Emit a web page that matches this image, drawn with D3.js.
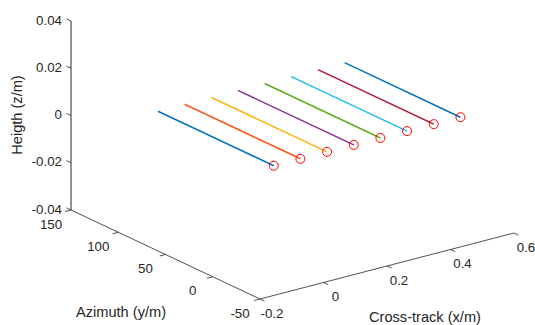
<!DOCTYPE html>
<html>
<head>
<meta charset="utf-8">
<script src="https://cdn.jsdelivr.net/npm/d3@7"></script>
<style>
  body { margin: 0; background: #fff; }
  svg { display: block; }
  text { font-family: Arial, "Liberation Sans", sans-serif; fill: #262626; }
</style>
</head>
<body>
<div id="chart"></div>
<script>
// track positions
const crossTrack = [-0.005, 0.079, 0.163, 0.247, 0.331, 0.415, 0.499, 0.583];
const azimuthRange = [123.5, 1];   // start, end (end marked with a circle)
const heightLevel = 0;
const lineColors = ['#0072BD', '#FF5416', '#FFB000', '#8A2D96', '#5EAE1E', '#1DBDF0', '#B5122E', '#0072BD'];

const xTicks = [-0.2, 0, 0.2, 0.4, 0.6];
const yTicks = [-50, 0, 50, 100, 150];
const zTicks = [-0.04, -0.02, 0, 0.02, 0.04];

const width = 535, height = 325;

let svg = d3.select('#chart').append('svg')
    .attr('width', width)
    .attr('height', height);

// 3d -> 2d (orthographic view, like matlab)
let fx = d3.scaleLinear().domain([-0.2, 0.6]).range([0, 1]);
let fy = d3.scaleLinear().domain([-50, 150]).range([0, 1]);
let fz = d3.scaleLinear().domain([-0.04, 0.04]).range([0, 1]);

let O = [260, 299];
let X = [254, -66];
let Y = [-189, -89];
let Z = [0, -189];

function proj(x, y, z) {
    let a = fx(x), b = fy(y), c = fz(z);
    return [O[0] + a * X[0] + b * Y[0] + c * Z[0],
            O[1] + a * X[1] + b * Y[1] + c * Z[1]];
}

function unit(v) {
    let l = Math.hypot(v[0], v[1]);
    return [v[0] / l, v[1] / l];
}

// plain hyphen for negatives, like the original
function fmt(t, digits) {
    if (t === 0) return '0';
    return (digits ? t.toFixed(digits) : String(t));
}

let axisG = svg.append('g');
let line = d3.line();

// z axis (left, at x=-0.2, y=150)
axisG.append('path')
    .attr('d', line([proj(-0.2, 150, -0.04), proj(-0.2, 150, 0.04)]))
    .attr('stroke', '#262626').attr('stroke-width', 1).attr('fill', 'none');
// y axis
axisG.append('path')
    .attr('d', line([proj(-0.2, 150, -0.04), proj(-0.2, -50, -0.04)]))
    .attr('stroke', '#262626').attr('stroke-width', 0.8).attr('fill', 'none');
// x axis
axisG.append('path')
    .attr('d', line([proj(-0.2, -50, -0.04), proj(0.6, -50, -0.04)]))
    .attr('stroke', '#262626').attr('stroke-width', 0.8).attr('fill', 'none');

let uy = unit(Y), ux = unit(X);

// z ticks
zTicks.forEach(function(t) {
    let p = proj(-0.2, 150, t);
    axisG.append('path')
        .attr('d', line([p, [p[0] + uy[0] * 5, p[1] + uy[1] * 5]]))
        .attr('stroke', '#262626').attr('stroke-width', 0.8);
    axisG.append('text')
        .attr('x', p[0] - 9)
        .attr('y', p[1] - 1)
        .attr('text-anchor', 'end')
        .attr('dominant-baseline', 'central')
        .style('font-size', '13.3px')
        .text(fmt(t, 2));
});

// y ticks
yTicks.forEach(function(t) {
    let p = proj(-0.2, t, -0.04);
    axisG.append('path')
        .attr('d', line([p, [p[0] - ux[0] * 6, p[1] - ux[1] * 6]]))
        .attr('stroke', '#262626').attr('stroke-width', 0.8);
    axisG.append('text')
        .attr('x', p[0] - 20)
        .attr('y', p[1] + 14)
        .attr('text-anchor', 'middle')
        .attr('dominant-baseline', 'central')
        .style('font-size', '13.3px')
        .text(fmt(t));
});

// x ticks
xTicks.forEach(function(t) {
    let p = proj(t, -50, -0.04);
    axisG.append('path')
        .attr('d', line([p, [p[0] - uy[0] * 5, p[1] - uy[1] * 5]]))
        .attr('stroke', '#262626').attr('stroke-width', 0.8);
    axisG.append('text')
        .attr('x', p[0] + 12)
        .attr('y', p[1] + 14)
        .attr('text-anchor', 'middle')
        .attr('dominant-baseline', 'central')
        .style('font-size', '13.3px')
        .text(fmt(t));
});

// axis labels
svg.append('text')
    .attr('transform', 'translate(17,115) rotate(-90)')
    .attr('text-anchor', 'middle')
    .attr('dominant-baseline', 'central')
    .style('font-size', '14.6px')
    .text('Heigth (z/m)');

svg.append('text')
    .attr('x', 121).attr('y', 312)
    .attr('text-anchor', 'middle')
    .attr('dominant-baseline', 'central')
    .style('font-size', '14.6px')
    .text('Azimuth (y/m)');

svg.append('text')
    .attr('x', 425).attr('y', 317)
    .attr('text-anchor', 'middle')
    .attr('dominant-baseline', 'central')
    .style('font-size', '14.6px')
    .text('Cross-track (x/m)');

// tracks
let tracks = svg.append('g');
crossTrack.forEach(function(x, i) {
    let p0 = proj(x, azimuthRange[0], heightLevel);
    let p1 = proj(x, azimuthRange[1], heightLevel);
    tracks.append('path')
        .attr('d', line([p0, p1]))
        .attr('stroke', lineColors[i])
        .attr('stroke-width', 1.5)
        .attr('fill', 'none');
    tracks.append('circle')
        .attr('cx', p1[0])
        .attr('cy', p1[1])
        .attr('r', 4.5)
        .attr('fill', 'none')
        .attr('stroke', '#FF0000')
        .attr('stroke-width', 1);
});
</script>
</body>
</html>
